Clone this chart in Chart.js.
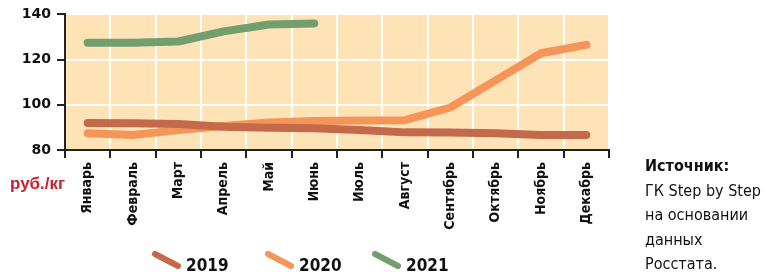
<!DOCTYPE html>
<html>
<head>
<meta charset="utf-8">
<script src="https://cdn.jsdelivr.net/npm/chart.js@4"></script>
<style>
  html, body { margin: 0; padding: 0; background: #fff; }
  #wrap { position: relative; width: 771px; height: 272px; overflow: hidden; }
  #unit { position: absolute; left: 10px; top: 174px; font: bold 17px "Liberation Sans", Arial, sans-serif; color: #c8202f; }
  #source { position: absolute; left: 645px; top: 154px; font: 16px/24.5px "DejaVu Sans Condensed", sans-serif; color: #111; }
  #source b { font-weight: bold; }
</style>
</head>
<body>
<div id="wrap">
  <canvas id="priceChart" width="771" height="272"></canvas>
  <div id="unit">руб./кг</div>
  <div id="source"><b>Источник:</b><br>ГК Step by Step<br>на основании<br>данных<br>Росстата.</div>
</div>
<script>
const months = ['Январь', 'Февраль', 'Март', 'Апрель', 'Май', 'Июнь', 'Июль', 'Август', 'Сентябрь', 'Октябрь', 'Ноябрь', 'Декабрь'];
const years = ['2019', '2020', '2021'];
const prices2019 = [91.9, 91.8, 91.5, 90.3, 89.9, 89.6, 88.8, 87.8, 87.7, 87.4, 86.6, 86.6];
const prices2020 = [87.4, 86.6, 88.8, 90.6, 92.2, 92.8, 93.0, 93.2, 98.8, 110.8, 122.8, 126.5];
const prices2021 = [127.5, 127.5, 128.0, 132.5, 135.5, 136.0];
const yTicks = [80, 100, 120, 140];
const colors = ['#c46a4a', '#f5955a', '#739e6e'];

const PLOT_BG = '#fde3b6';
const NARROW = '"DejaVu Sans Condensed", "Liberation Sans Narrow", sans-serif';

// plot background + hand-drawn legend with slanted strokes
const chartDecor = {
  id: 'chartDecor',
  beforeDraw(chart) {
    const { ctx, chartArea: a } = chart;
    ctx.save();
    ctx.fillStyle = PLOT_BG;
    ctx.fillRect(a.left, a.top, a.right - a.left, a.bottom - a.top);
    ctx.restore();
  },
  afterDraw(chart) {
    const ctx = chart.ctx;
    const startX = [153, 266, 373];
    ctx.save();
    chart.data.datasets.forEach((ds, i) => {
      const x = startX[i];
      ctx.strokeStyle = ds.borderColor;
      ctx.lineWidth = 6;
      ctx.lineCap = 'round';
      ctx.beginPath();
      ctx.moveTo(x + 2, 254);
      ctx.lineTo(x + 25, 266);
      ctx.stroke();
      ctx.fillStyle = '#111';
      ctx.font = 'bold 17px ' + NARROW;
      ctx.textBaseline = 'alphabetic';
      ctx.fillText(ds.label, x + 33, 271);
    });
    ctx.restore();
  }
};

const ctx = document.getElementById('priceChart').getContext('2d');
new Chart(ctx, {
  type: 'line',
  data: {
    labels: months,
    datasets: [
      { label: years[0], data: prices2019, borderColor: colors[0] },
      { label: years[1], data: prices2020, borderColor: colors[1] },
      { label: years[2], data: prices2021, borderColor: colors[2] }
    ].map(ds => Object.assign(ds, {
      borderWidth: 8,
      borderCapStyle: 'round',
      borderJoinStyle: 'round',
      pointRadius: 0,
      tension: 0,
      fill: false
    }))
  },
  options: {
    responsive: false,
    animation: false,
    layout: { padding: { left: 0, right: 162, top: 8, bottom: 42 } },
    plugins: { legend: { display: false }, tooltip: { enabled: false } },
    scales: {
      x: {
        offset: true,
        grid: { offset: true, color: '#ffffff', lineWidth: 2, tickColor: '#222', tickLength: 8, drawTicks: true },
        border: { color: '#222', width: 2 },
        ticks: {
          maxRotation: 90, minRotation: 90, padding: 4, color: '#111', autoSkip: false,
          font: { family: NARROW, size: 14, weight: 'bold' }
        },
        afterFit(scale) { scale.height = 80; }
      },
      y: {
        min: yTicks[0], max: yTicks[yTicks.length - 1],
        afterBuildTicks(scale) { scale.ticks = yTicks.map(v => ({ value: v })); },
        grid: { color: '#ffffff', lineWidth: 2, tickColor: '#222', tickLength: 8 },
        border: { color: '#222', width: 2 },
        ticks: {
          padding: 6, color: '#111',
          font: { family: '"DejaVu Sans"', size: 14, weight: 'bold' }
        },
        afterFit(scale) { scale.width = 65; }
      }
    }
  },
  plugins: [chartDecor]
});
</script>
</body>
</html>
